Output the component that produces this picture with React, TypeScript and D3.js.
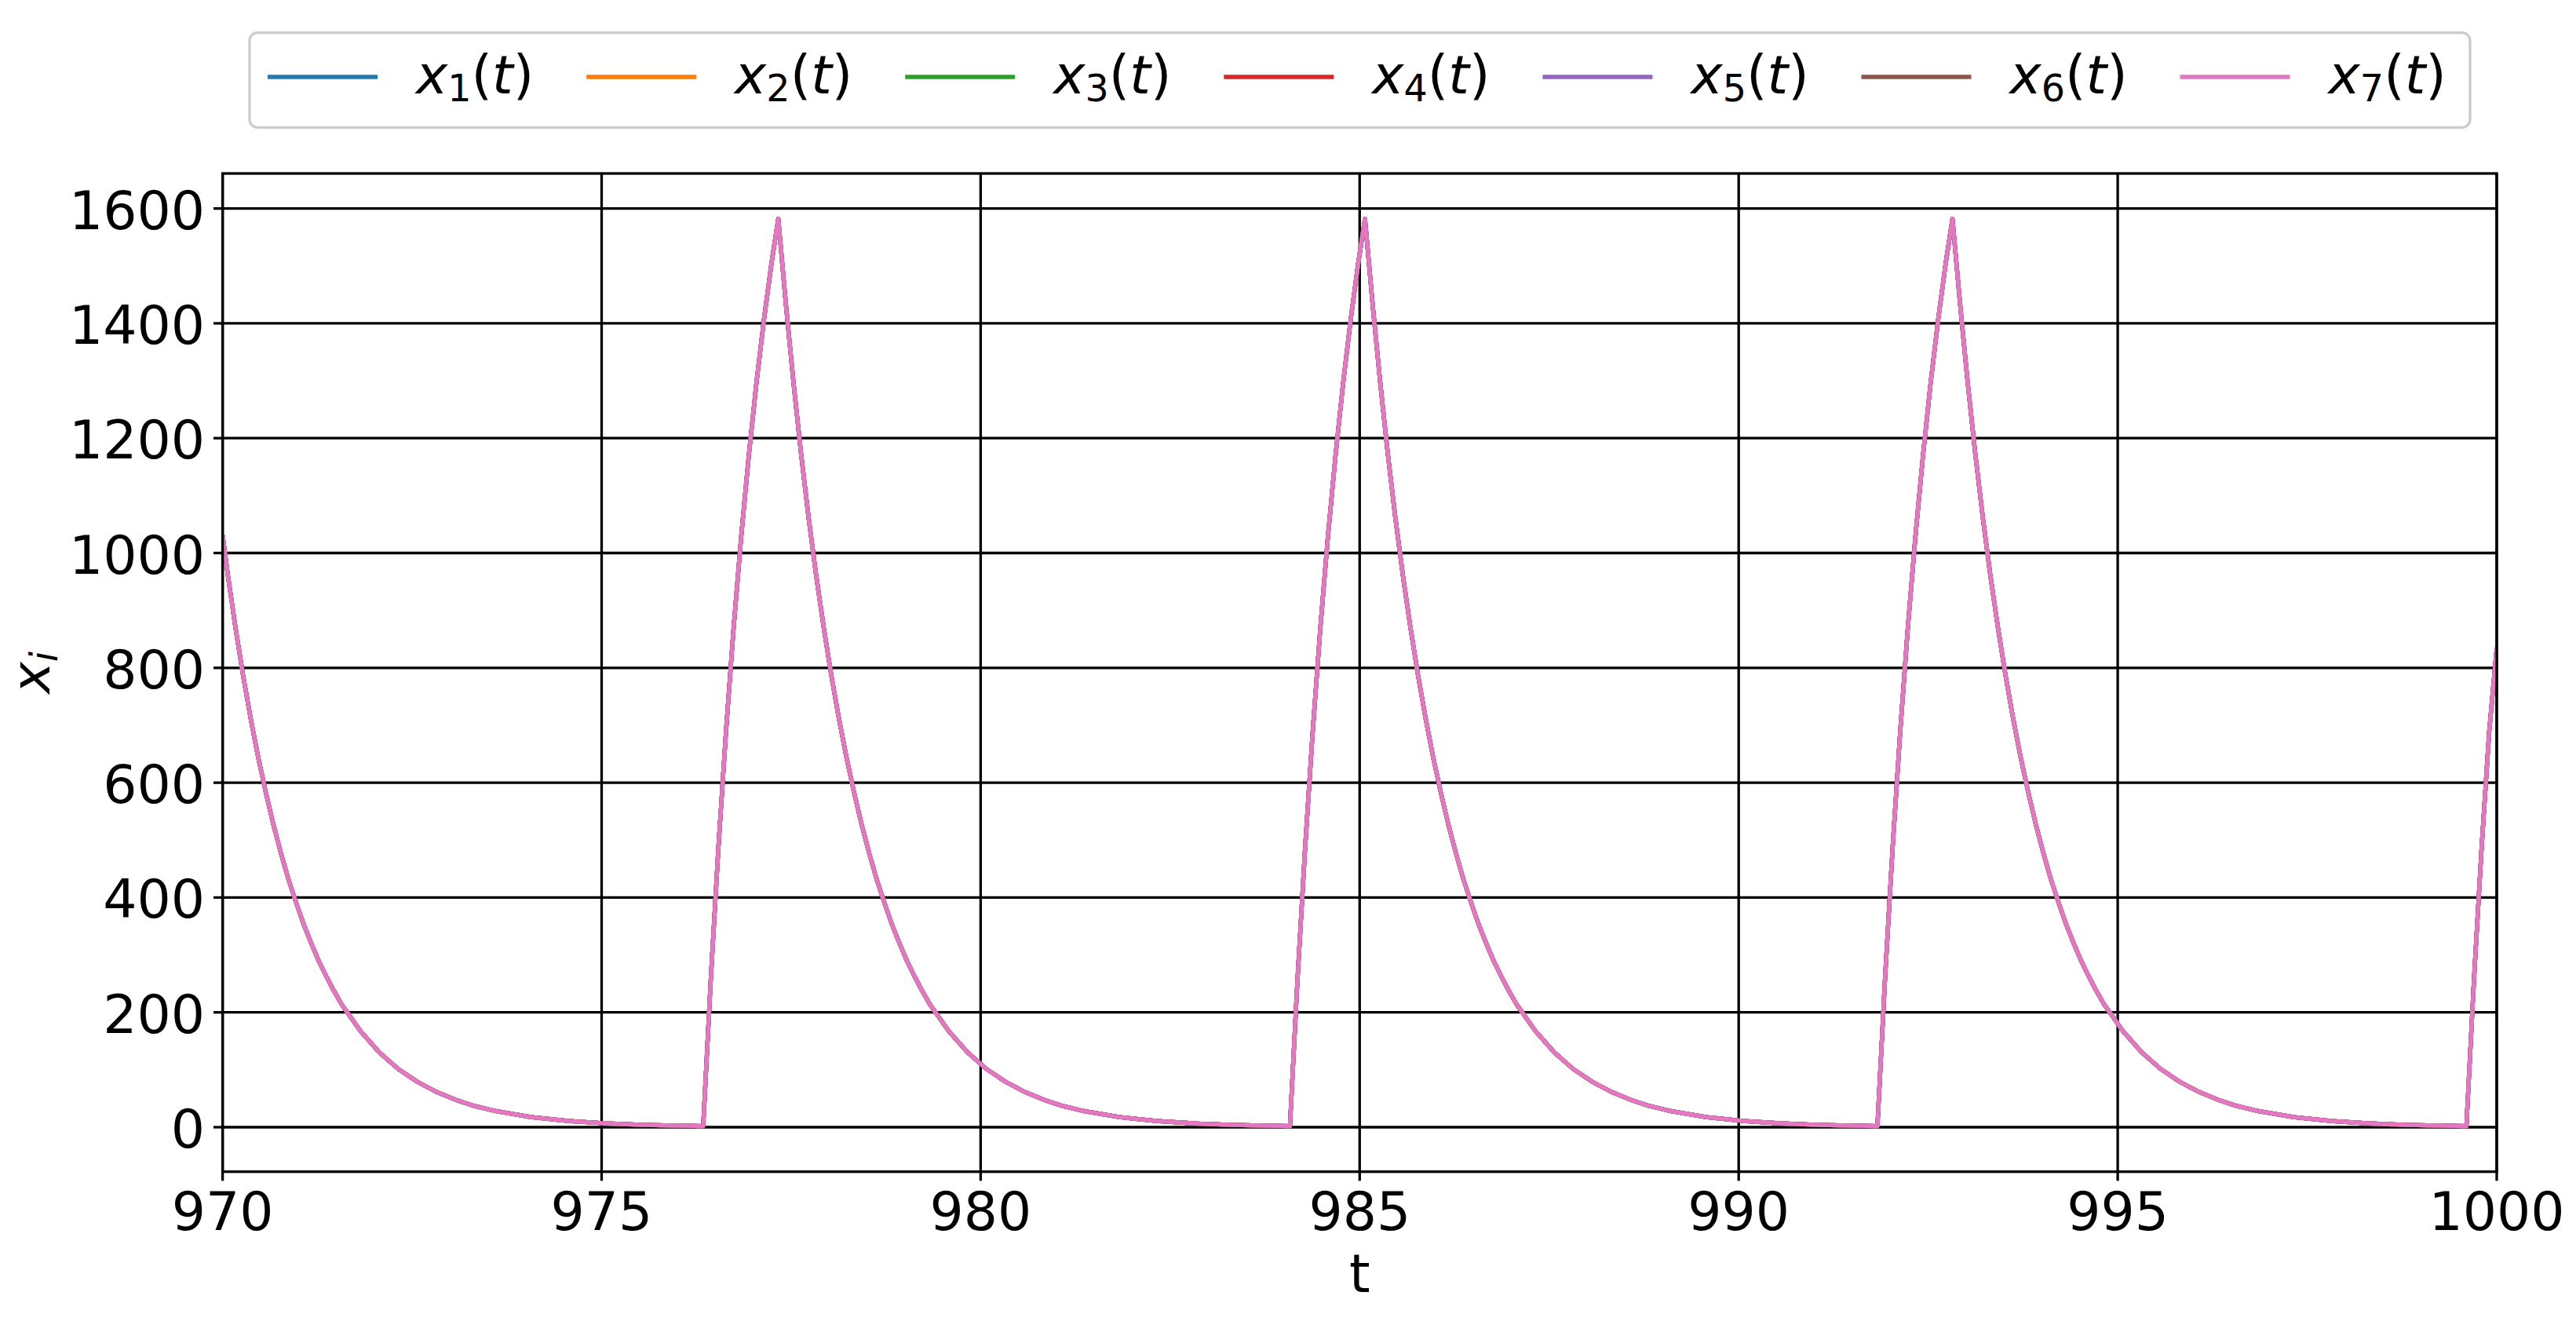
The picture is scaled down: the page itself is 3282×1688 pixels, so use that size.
import React, { useEffect, useRef } from 'react';
import * as d3 from 'd3';

// t samples and x_i(t) (all seven series overlap exactly)
const tValues = [
  970.0, 970.07, 970.17, 970.27, 970.37, 970.47, 970.57, 970.67, 970.77, 970.87, 970.97, 971.07,
  971.17, 971.27, 971.37, 971.47, 971.57, 971.82, 972.07, 972.32, 972.57, 972.82, 973.07, 973.32,
  973.57, 974.07, 974.57, 975.07, 975.57, 976.34,
  976.44, 976.54, 976.64, 976.74, 976.84, 976.94, 977.04, 977.14, 977.24, 977.33,
  977.43, 977.53, 977.63, 977.73, 977.83, 977.93, 978.03, 978.13, 978.23, 978.33, 978.43, 978.53,
  978.63, 978.73, 978.83, 978.93, 979.03, 979.13, 979.23, 979.33, 979.58, 979.83, 980.08, 980.33,
  980.58, 980.83, 981.08, 981.33, 981.83, 982.33, 982.83, 983.33, 984.08,
  984.18, 984.28, 984.38, 984.48, 984.58, 984.68, 984.78, 984.88, 984.98, 985.07,
  985.17, 985.27, 985.37, 985.47, 985.57, 985.67, 985.77, 985.87, 985.97, 986.07, 986.17, 986.27,
  986.37, 986.47, 986.57, 986.67, 986.77, 986.87, 986.97, 987.07, 987.32, 987.57, 987.82, 988.07,
  988.32, 988.57, 988.82, 989.07, 989.57, 990.07, 990.57, 991.07, 991.83,
  991.93, 992.03, 992.13, 992.23, 992.33, 992.43, 992.53, 992.63, 992.73, 992.82,
  992.92, 993.02, 993.12, 993.22, 993.32, 993.42, 993.52, 993.62, 993.72, 993.82, 993.92, 994.02,
  994.12, 994.22, 994.32, 994.42, 994.52, 994.62, 994.72, 994.82, 995.07, 995.32, 995.57, 995.82,
  996.07, 996.32, 996.57, 996.82, 997.32, 997.82, 998.32, 998.82, 999.6,
  999.7, 999.8, 999.9, 1000.0,
];

const xValues = [
  1031, 961, 870, 787, 712, 644, 583, 527, 477, 431, 391, 353,
  320, 289, 262, 237, 214, 167, 130, 101, 79, 61.5, 48, 37,
  29, 17.6, 10.7, 6.5, 3.9, 1.8,
  258, 486, 688, 868, 1027, 1168, 1294, 1405, 1504, 1582,
  1434, 1298, 1174, 1062, 961, 870, 787, 712, 644, 583, 527, 477,
  431, 391, 353, 320, 289, 262, 237, 214, 167, 130, 101, 79,
  61.5, 48, 37, 29, 17.6, 10.7, 6.5, 3.9, 1.8,
  258, 486, 688, 868, 1027, 1168, 1294, 1405, 1504, 1582,
  1434, 1298, 1174, 1062, 961, 870, 787, 712, 644, 583, 527, 477,
  431, 391, 353, 320, 289, 262, 237, 214, 167, 130, 101, 79,
  61.5, 48, 37, 29, 17.6, 10.7, 6.5, 3.9, 1.8,
  258, 486, 688, 868, 1027, 1168, 1294, 1405, 1504, 1582,
  1434, 1298, 1174, 1062, 961, 870, 787, 712, 644, 583, 527, 477,
  431, 391, 353, 320, 289, 262, 237, 214, 167, 130, 101, 79,
  61.5, 48, 37, 29, 17.6, 10.7, 6.5, 3.9, 1.8,
  258, 486, 688, 835,
];

const seriesIndex = ['1', '2', '3', '4', '5', '6', '7'];
const seriesColors = ['#1f77b4', '#ff7f0e', '#2ca02c', '#d62728', '#9467bd', '#8c564b', '#e377c2'];

const xTicks = [970, 975, 980, 985, 990, 995, 1000];
const yTicks = [0, 200, 400, 600, 800, 1000, 1200, 1400, 1600];

const FONT = 'DejaVu Sans';
const FS = 68;

export default function App() {
  const chartRef = useRef<SVGSVGElement>(null);

  useEffect(() => {
    document.body.style.margin = '0';
    document.body.style.overflow = 'hidden';

    const svg = d3.select(chartRef.current);
    svg.selectAll('*').remove();

    const left = 283.6;
    const right = 3181;
    const top = 221;
    const bottom = 1492.7;

    const xScale = d3.scaleLinear().domain([970, 1000]).range([left, right]);
    const yScale = d3.scaleLinear().domain([-77.5, 1661]).range([bottom, top]);

    svg.append('rect').attr('width', 3282).attr('height', 1688).attr('fill', 'white');

    svg
      .append('defs')
      .append('clipPath')
      .attr('id', 'plot-clip')
      .append('rect')
      .attr('x', left)
      .attr('y', top)
      .attr('width', right - left)
      .attr('height', bottom - top);

    // grid
    const grid = svg.append('g').attr('stroke', 'black').attr('stroke-width', 3.3);
    grid
      .selectAll('.vgrid')
      .data(xTicks)
      .enter()
      .append('line')
      .attr('x1', (d) => xScale(d))
      .attr('x2', (d) => xScale(d))
      .attr('y1', top)
      .attr('y2', bottom);
    grid
      .selectAll('.hgrid')
      .data(yTicks)
      .enter()
      .append('line')
      .attr('x1', left)
      .attr('x2', right)
      .attr('y1', (d) => yScale(d))
      .attr('y2', (d) => yScale(d));

    // series
    const points = tValues.map((t, i) => [t, xValues[i]] as [number, number]);
    const line = d3
      .line<[number, number]>()
      .x((d) => xScale(d[0]))
      .y((d) => yScale(d[1]));

    const lines = svg.append('g').attr('clip-path', 'url(#plot-clip)');
    seriesIndex.forEach((_, i) => {
      lines
        .append('path')
        .datum(points)
        .attr('d', line)
        .attr('fill', 'none')
        .attr('stroke', seriesColors[i])
        .attr('stroke-width', 5.3)
        .attr('stroke-linejoin', 'round');
    });

    // spines
    svg
      .append('rect')
      .attr('x', left)
      .attr('y', top)
      .attr('width', right - left)
      .attr('height', bottom - top)
      .attr('fill', 'none')
      .attr('stroke', 'black')
      .attr('stroke-width', 3.3);

    // ticks
    const ticks = svg.append('g').attr('stroke', 'black').attr('stroke-width', 3.3);
    ticks
      .selectAll('.xt')
      .data(xTicks)
      .enter()
      .append('line')
      .attr('x1', (d) => xScale(d))
      .attr('x2', (d) => xScale(d))
      .attr('y1', bottom)
      .attr('y2', bottom + 11.6);
    ticks
      .selectAll('.yt')
      .data(yTicks)
      .enter()
      .append('line')
      .attr('x1', left - 11.6)
      .attr('x2', left)
      .attr('y1', (d) => yScale(d))
      .attr('y2', (d) => yScale(d));

    const labels = svg.append('g').attr('font-family', FONT).attr('font-size', FS).attr('fill', 'black');
    labels
      .selectAll('.xl')
      .data(xTicks)
      .enter()
      .append('text')
      .attr('x', (d) => xScale(d))
      .attr('y', 1566.7)
      .attr('text-anchor', 'middle')
      .text((d) => d);
    labels
      .selectAll('.yl')
      .data(yTicks)
      .enter()
      .append('text')
      .attr('x', 261)
      .attr('y', (d) => yScale(d) + 26)
      .attr('text-anchor', 'end')
      .text((d) => d);

    // axis labels
    labels
      .append('text')
      .attr('x', (left + right) / 2)
      .attr('y', 1646)
      .attr('text-anchor', 'middle')
      .text('t');

    const yLabel = labels
      .append('text')
      .attr('transform', `translate(62.5, ${(top + bottom) / 2}) rotate(-90)`)
      .attr('text-anchor', 'middle');
    yLabel.append('tspan').attr('font-style', 'italic').text('x');
    yLabel
      .append('tspan')
      .attr('font-style', 'italic')
      .attr('font-size', FS * 0.7)
      .attr('dy', 10)
      .text('i');

    // legend
    const legend = svg.append('g').attr('font-family', FONT).attr('font-size', FS);
    legend
      .append('rect')
      .attr('x', 318)
      .attr('y', 41.7)
      .attr('width', 2829)
      .attr('height', 120.6)
      .attr('rx', 10)
      .attr('fill', 'white')
      .attr('stroke', '#cccccc')
      .attr('stroke-width', 3.3);

    seriesIndex.forEach((sub, i) => {
      const hx = 341 + 406.1 * i;
      legend
        .append('line')
        .attr('x1', hx)
        .attr('x2', hx + 140)
        .attr('y1', 98)
        .attr('y2', 98)
        .attr('stroke', seriesColors[i])
        .attr('stroke-width', 5.5);
      const label = legend.append('text').attr('x', hx + 189).attr('y', 119.3);
      label.append('tspan').attr('font-style', 'italic').text('x');
      label.append('tspan').attr('font-size', FS * 0.7).attr('dy', 10).text(sub);
      label.append('tspan').attr('dy', -10).text('(');
      label.append('tspan').attr('font-style', 'italic').text('t');
      label.append('tspan').text(')');
    });
  }, []);

  return <svg ref={chartRef} width={3282} height={1688} style={{ display: 'block' }} />;
}
